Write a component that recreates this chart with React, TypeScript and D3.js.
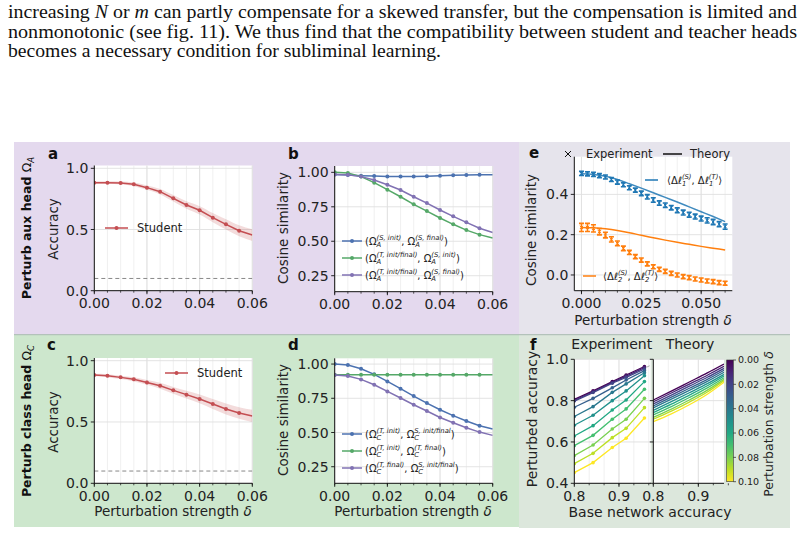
import React from 'react';
import * as d3 from 'd3';

const W = 804;
const H = 538;
const FONT = '"DejaVu Sans", sans-serif';

// perturbation strengths for panels a-d
const deltas = [0, 0.005, 0.01, 0.015, 0.02, 0.025, 0.03, 0.035, 0.04, 0.045, 0.05, 0.055, 0.06];

// a: student accuracy when the aux head is perturbed
const studentAuxAcc = [0.883, 0.883, 0.88, 0.869, 0.842, 0.809, 0.755, 0.7, 0.657, 0.597, 0.542, 0.49, 0.455];
const studentAuxSpread = [0.012, 0.012, 0.013, 0.015, 0.018, 0.022, 0.026, 0.03, 0.034, 0.038, 0.042, 0.045, 0.048];
// c: student accuracy when the class head is perturbed
const studentClassAcc = [0.883, 0.878, 0.864, 0.848, 0.823, 0.796, 0.758, 0.723, 0.688, 0.647, 0.606, 0.573, 0.549];
const studentClassSpread = [0.01, 0.012, 0.014, 0.017, 0.02, 0.024, 0.028, 0.032, 0.036, 0.04, 0.044, 0.047, 0.05];
const chanceLevel = 0.1;

// b: cosine similarities of aux heads
const auxSInitSFinal = [0.985, 0.98, 0.976, 0.973, 0.97, 0.969, 0.97, 0.972, 0.975, 0.978, 0.98, 0.982, 0.983];
const auxTSInit = [1.0, 0.995, 0.969, 0.925, 0.874, 0.823, 0.768, 0.719, 0.669, 0.623, 0.581, 0.548, 0.523];
const auxTSFinal = [0.985, 0.983, 0.969, 0.944, 0.91, 0.872, 0.823, 0.777, 0.727, 0.681, 0.637, 0.594, 0.564];

// d: cosine similarities of class heads
const classTInitS = [1.0, 0.993, 0.966, 0.925, 0.873, 0.82, 0.766, 0.715, 0.666, 0.623, 0.584, 0.55, 0.525];
const classTInitTFinal = [0.922, 0.922, 0.922, 0.922, 0.922, 0.922, 0.922, 0.922, 0.922, 0.922, 0.922, 0.922, 0.922];
const classTFinalS = [0.92, 0.912, 0.888, 0.849, 0.8, 0.752, 0.703, 0.657, 0.61, 0.571, 0.535, 0.503, 0.479];

// e: logit-update alignment, experiment (with error bars) and theory
const expDeltas = [0, 0.0025, 0.005, 0.0075, 0.01, 0.0125, 0.015, 0.0175, 0.02, 0.0225, 0.025, 0.0275, 0.03,
  0.0325, 0.035, 0.0375, 0.04, 0.0425, 0.045, 0.0475, 0.05, 0.0525, 0.055, 0.0575, 0.06];
const dl1Exp = [0.504, 0.502, 0.499, 0.493, 0.486, 0.474, 0.461, 0.448, 0.433, 0.421, 0.405, 0.388, 0.372,
  0.357, 0.346, 0.334, 0.321, 0.31, 0.299, 0.29, 0.28, 0.271, 0.263, 0.252, 0.24];
const dl1Err = [0.01, 0.01, 0.01, 0.01, 0.01, 0.01, 0.01, 0.01, 0.01, 0.01, 0.011, 0.011, 0.011,
  0.011, 0.011, 0.011, 0.012, 0.012, 0.012, 0.012, 0.012, 0.013, 0.013, 0.013, 0.013];
const dl2Exp = [0.236, 0.236, 0.231, 0.215, 0.198, 0.177, 0.157, 0.132, 0.112, 0.091, 0.074, 0.055, 0.041,
  0.028, 0.018, 0.008, 0.0, -0.008, -0.013, -0.02, -0.025, -0.03, -0.033, -0.038, -0.041];
const dl2Err = [0.02, 0.02, 0.018, 0.016, 0.014, 0.013, 0.012, 0.011, 0.01, 0.01, 0.01, 0.01, 0.01,
  0.01, 0.01, 0.01, 0.01, 0.01, 0.01, 0.01, 0.01, 0.01, 0.01, 0.01, 0.01];
const dl1Theory = [0.502, 0.499, 0.49, 0.474, 0.453, 0.431, 0.408, 0.385, 0.362, 0.338, 0.314, 0.29, 0.265];
const dl2Theory = [0.236, 0.234, 0.229, 0.221, 0.21, 0.197, 0.185, 0.173, 0.162, 0.152, 0.142, 0.133, 0.124];

// f: perturbed vs base accuracy for strengths 0..0.10
const fDeltas = [0, 0.01, 0.02, 0.03, 0.04, 0.05, 0.06, 0.07, 0.08, 0.09, 0.1];
const baseAcc = [0.8, 0.842, 0.885, 0.916, 0.957];
const expPerturbed = [
  [0.806, 0.847, 0.892, 0.924, 0.965],
  [0.802, 0.843, 0.888, 0.919, 0.96],
  [0.798, 0.839, 0.884, 0.913, 0.953],
  [0.768, 0.811, 0.862, 0.9, 0.945],
  [0.723, 0.771, 0.84, 0.881, 0.935],
  [0.681, 0.729, 0.8, 0.847, 0.921],
  [0.629, 0.679, 0.755, 0.803, 0.892],
  [0.582, 0.632, 0.71, 0.76, 0.855],
  [0.534, 0.585, 0.663, 0.71, 0.811],
  [0.495, 0.545, 0.621, 0.666, 0.766],
  [0.452, 0.5, 0.573, 0.618, 0.716],
];
const theoryBase = [0.8, 0.84, 0.88, 0.92, 0.957];
const theoryPerturbed = [
  [0.803, 0.846, 0.89, 0.934, 0.977],
  [0.794, 0.837, 0.88, 0.923, 0.966],
  [0.784, 0.827, 0.87, 0.913, 0.956],
  [0.774, 0.817, 0.86, 0.903, 0.947],
  [0.765, 0.807, 0.85, 0.893, 0.937],
  [0.753, 0.795, 0.838, 0.882, 0.927],
  [0.742, 0.783, 0.827, 0.872, 0.919],
  [0.731, 0.771, 0.815, 0.862, 0.911],
  [0.719, 0.759, 0.803, 0.851, 0.903],
  [0.71, 0.749, 0.793, 0.842, 0.897],
  [0.698, 0.736, 0.78, 0.831, 0.889],
];
const cbarTicks = [0, 0.02, 0.04, 0.06, 0.08, 0.1];

const C = {
  red: '#c44e52',
  blue: '#4c72b0',
  green: '#55a868',
  purple: '#8172b3',
  tblue: '#1f77b4',
  torange: '#ff7f0e',
};

// text measuring for sub/superscript layout
const ctx = typeof document !== 'undefined' ? document.createElement('canvas').getContext('2d') : null;
function measure(s: string, size: number, style = 'normal') {
  if (!ctx) return s.length * size * 0.6;
  ctx.font = `${style} ${size}px "DejaVu Sans"`;
  return ctx.measureText(s).width;
}

type Part = { t: string; sub?: string; sup?: string; it?: boolean; b?: boolean };

function ScriptText({ x, y, parts, size, anchor = 'start', rotate = false, fill = '#222' }:
  { x: number; y: number; parts: Part[]; size: number; anchor?: string; rotate?: boolean; fill?: string }) {
  const ss = size * 0.68;
  const up = size * 0.42;
  const down = size * 0.26;
  const spans: React.ReactNode[] = [];
  let cur = 0;
  let pend = 0;
  parts.forEach((p, i) => {
    spans.push(
      <tspan key={i + 'b'} dy={-cur} dx={pend || undefined} fontStyle={p.it ? 'italic' : undefined}
        fontWeight={p.b ? 'bold' : undefined}>{p.t}</tspan>
    );
    cur = 0;
    pend = 0;
    let supW = 0;
    if (p.sup) {
      supW = measure(p.sup, ss, 'italic');
      spans.push(<tspan key={i + 'p'} dy={-up - cur} fontSize={ss} fontStyle="italic">{p.sup}</tspan>);
      cur = -up;
    }
    if (p.sub) {
      const subW = measure(p.sub, ss, 'italic');
      spans.push(
        <tspan key={i + 's'} dx={p.sup ? -supW : undefined} dy={down - cur} fontSize={ss} fontStyle="italic">{p.sub}</tspan>
      );
      cur = down;
      pend = p.sup ? Math.max(supW, subW) - subW : 0;
    }
  });
  return (
    <text x={rotate ? 0 : x} y={rotate ? 0 : y} transform={rotate ? `translate(${x},${y}) rotate(-90)` : undefined}
      fontSize={size} textAnchor={anchor} fill={fill} fontFamily={FONT}>
      {spans}
    </text>
  );
}

type Sc = d3.ScaleLinear<number, number>;

function Frame({ id, x, y, xMajor, xMinor, yMajor, fx, fy, xLab = true, yLab = true, fs = 14, children }:
  { id: string; x: Sc; y: Sc; xMajor: number[]; xMinor: number[]; yMajor: number[]; fx: (v: number) => string;
    fy: (v: number) => string; xLab?: boolean; yLab?: boolean; fs?: number; children?: React.ReactNode }) {
  const [l, r] = x.range();
  const [b, t] = y.range();
  return (
    <g>
      <defs>
        <clipPath id={id}><rect x={l} y={t} width={r - l} height={b - t} /></clipPath>
      </defs>
      <rect x={l} y={t} width={r - l} height={b - t} fill="#fff" />
      {xMinor.map((v, i) => (
        <line key={'gm' + i} x1={x(v)} x2={x(v)} y1={t} y2={b} stroke="#ececec" strokeWidth={0.8} />
      ))}
      {xMajor.map((v, i) => (
        <line key={'gx' + i} x1={x(v)} x2={x(v)} y1={t} y2={b} stroke="#e0e0e0" strokeWidth={0.9} />
      ))}
      {yMajor.map((v, i) => (
        <line key={'gy' + i} x1={l} x2={r} y1={y(v)} y2={y(v)} stroke="#e0e0e0" strokeWidth={0.9} />
      ))}
      <g clipPath={`url(#${id})`}>{children}</g>
      <line x1={l} x2={l} y1={t} y2={b} stroke="#111" strokeWidth={1} />
      <line x1={l} x2={r} y1={b} y2={b} stroke="#111" strokeWidth={1} />
      {xMinor.map((v, i) => (
        <line key={'tm' + i} x1={x(v)} x2={x(v)} y1={b} y2={b + 2} stroke="#111" strokeWidth={0.7} />
      ))}
      {xMajor.map((v, i) => (
        <g key={'tx' + i}>
          <line x1={x(v)} x2={x(v)} y1={b} y2={b + 3.5} stroke="#111" strokeWidth={0.9} />
          {xLab && (
            <text x={x(v)} y={b + 17.5} fontSize={fs} textAnchor="middle" fill="#222" fontFamily={FONT}>{fx(v)}</text>
          )}
        </g>
      ))}
      {yMajor.map((v, i) => (
        <g key={'ty' + i}>
          <line x1={l - 3.5} x2={l} y1={y(v)} y2={y(v)} stroke="#111" strokeWidth={0.9} />
          {yLab && (
            <text x={l - 6} y={y(v) + fs * 0.36} fontSize={fs} textAnchor="end" fill="#222" fontFamily={FONT}>{fy(v)}</text>
          )}
        </g>
      ))}
    </g>
  );
}

const f1 = d3.format('.1f');
const f2 = d3.format('.2f');
const f3 = d3.format('.3f');

function pts(xs: number[], ys: number[]) {
  return xs.map((v, i) => [v, ys[i]] as [number, number]);
}

function Series({ x, y, xs, ys, color, r = 2, marks = xs.length - 1, curve = false }:
  { x: Sc; y: Sc; xs: number[]; ys: number[]; color: string; r?: number; marks?: number; curve?: boolean }) {
  const line = d3.line<[number, number]>().x(d => x(d[0])).y(d => y(d[1]));
  if (curve) line.curve(d3.curveMonotoneX);
  const p = pts(xs, ys);
  return (
    <g>
      <path d={line(p) || ''} fill="none" stroke={color} strokeWidth={1.5} />
      {p.slice(0, marks).map((d, i) => (
        <circle key={i} cx={x(d[0])} cy={y(d[1])} r={r} fill={color} />
      ))}
    </g>
  );
}

function Band({ x, y, xs, ys, spread, color }:
  { x: Sc; y: Sc; xs: number[]; ys: number[]; spread: number[]; color: string }) {
  const area = d3.area<number>().x((_, i) => x(xs[i])).y0((v, i) => y(v - spread[i])).y1((v, i) => y(v + spread[i]))
    .curve(d3.curveMonotoneX);
  return <path d={area(ys) || ''} fill={color} opacity={0.2} />;
}

function LegendLine({ x1, x2, y, color, marker = true }: { x1: number; x2: number; y: number; color: string; marker?: boolean }) {
  return (
    <g>
      <line x1={x1} x2={x2} y1={y} y2={y} stroke={color} strokeWidth={1.5} />
      {marker && <circle cx={(x1 + x2) / 2} cy={y} r={2} fill={color} />}
    </g>
  );
}

function ErrSeries({ x, y, xs, ys, err, color }: { x: Sc; y: Sc; xs: number[]; ys: number[]; err: number[]; color: string }) {
  return (
    <g stroke={color}>
      {xs.map((v, i) => {
        const cx = x(v);
        const y0 = y(ys[i] - err[i]);
        const y1 = y(ys[i] + err[i]);
        const cy = y(ys[i]);
        return (
          <g key={i}>
            <line x1={cx} x2={cx} y1={y0} y2={y1} strokeWidth={1.6} />
            <line x1={cx - 2.5} x2={cx + 2.5} y1={y0} y2={y0} strokeWidth={1.6} />
            <line x1={cx - 2.5} x2={cx + 2.5} y1={y1} y2={y1} strokeWidth={1.6} />
            <path d={`M${cx - 1.6},${cy - 1.6}L${cx + 1.6},${cy + 1.6}M${cx - 1.6},${cy + 1.6}L${cx + 1.6},${cy - 1.6}`} strokeWidth={1} />
          </g>
        );
      })}
    </g>
  );
}

function Letter({ x, y, s }: { x: number; y: number; s: string }) {
  return <text x={x} y={y} fontSize={15} fontWeight="bold" fill="#111" fontFamily={FONT}>{s}</text>;
}

function YLabel({ x, y, s, size = 13.5 }: { x: number; y: number; s: string; size?: number }) {
  return (
    <text transform={`translate(${x},${y}) rotate(-90)`} fontSize={size} textAnchor="middle" fill="#222" fontFamily={FONT}>{s}</text>
  );
}

function DeltaLabel({ x, y, size = 13.5, rotate = false }: { x: number; y: number; size?: number; rotate?: boolean }) {
  return (
    <ScriptText x={x} y={y} size={size} anchor="middle" rotate={rotate}
      parts={[{ t: 'Perturbation strength ' }, { t: 'δ', it: true }]} />
  );
}

export default function App() {
  // panel scales
  const xa = d3.scaleLinear().domain([0, 0.06]).range([94.3, 252.3]);
  const ya = d3.scaleLinear().domain([0, 1.023]).range([290.7, 165.5]);
  const yc = d3.scaleLinear().domain([0, 1.022]).range([483.3, 358]);
  const xb = d3.scaleLinear().domain([0, 0.06]).range([334.7, 492.7]);
  const yb = d3.scaleLinear().domain([0.134, 1.046]).range([291.7, 166]);
  const yd = d3.scaleLinear().domain([0.129, 1.042]).range([483.3, 358.3]);
  const xe = d3.scaleLinear().domain([-0.003, 0.063]).range([574.3, 732.3]);
  const ye = d3.scaleLinear().domain([-0.078, 0.587]).range([290.7, 156.7]);
  const xfl = d3.scaleLinear().domain([0.8, 0.971]).range([574.3, 650.7]);
  const xfr = d3.scaleLinear().domain([0.8, 0.957]).range([653.3, 724]);
  const yf = d3.scaleLinear().domain([0.4, 1.0]).range([483.3, 359.3]);
  const ycb = d3.scaleLinear().domain([0, 0.1]).range([360, 481.7]);
  const viridis = (v: number) => d3.interpolateViridis(v / 0.1);

  const accTicks = [0, 0.5, 1.0];
  const cosTicks = [0.25, 0.5, 0.75, 1.0];
  const dTicks = [0, 0.02, 0.04, 0.06];
  const fMinor = d3.range(0.8, 0.975, 0.1 / 3);

  const eTheoryLine = d3.line<[number, number]>().x(d => xe(d[0])).y(d => ye(d[1])).curve(d3.curveMonotoneX);
  const fLine = (x: Sc, curve: boolean) => {
    const g = d3.line<[number, number]>().x(d => x(d[0])).y(d => yf(d[1]));
    return curve ? g.curve(d3.curveMonotoneX) : g;
  };

  return (
    <svg width={W} height={H} viewBox={`0 0 ${W} ${H}`}
      style={{ position: 'absolute', left: 0, top: 0, background: '#fff', display: 'block' }}>
      {/* running text above the figure */}
      <g fontFamily='"Liberation Serif", serif' fontSize={18} fill="#111">
        <text x={8} y={18} textLength={789} lengthAdjust="spacingAndGlyphs">
          increasing <tspan fontStyle="italic">N</tspan> or <tspan fontStyle="italic">m</tspan> can partly compensate for a skewed transfer, but the compensation is limited and
        </text>
        <text x={8} y={37.5} textLength={789} lengthAdjust="spacingAndGlyphs">
          nonmonotonic (see fig. 11). We thus find that the compatibility between student and teacher heads
        </text>
        <text x={8} y={57} textLength={433} lengthAdjust="spacingAndGlyphs">
          becomes a necessary condition for subliminal learning.
        </text>
      </g>

      {/* row backgrounds */}
      <rect x={14} y={142} width={505} height={192.5} fill="#e4d9ee" />
      <rect x={519} y={142} width={271} height={192.5} fill="#e6e4ec" />
      <rect x={14} y={335} width={505} height={192} fill="#cde7cd" />
      <rect x={519} y={335} width={271} height={193} fill="#dce7dc" />
      <line x1={14} x2={790} y1={334.6} y2={334.6} stroke="#b3c2ba" strokeWidth={1.2} />

      {/* row labels */}
      <ScriptText x={31} y={228} size={12.5} anchor="middle" rotate fill="#111"
        parts={[{ t: 'Perturb aux head ', b: true }, { t: 'Ω', sub: 'A' }]} />
      <ScriptText x={31} y={421} size={12.5} anchor="middle" rotate fill="#111"
        parts={[{ t: 'Perturb class head ', b: true }, { t: 'Ω', sub: 'C' }]} />

      {/* a */}
      <Letter x={48} y={159} s="a" />
      <Frame id="ca" x={xa} y={ya} xMajor={dTicks} xMinor={deltas} yMajor={accTicks} fx={f2} fy={f1}>
        <line x1={xa(0)} x2={xa(0.06)} y1={ya(chanceLevel)} y2={ya(chanceLevel)} stroke="#888" strokeDasharray="4,3" strokeWidth={1} />
        <Band x={xa} y={ya} xs={deltas} ys={studentAuxAcc} spread={studentAuxSpread} color={C.red} />
        <Series x={xa} y={ya} xs={deltas} ys={studentAuxAcc} color={C.red} />
      </Frame>
      <YLabel x={57.5} y={229} s="Accuracy" />
      <LegendLine x1={105} x2={128} y={228} color={C.red} />
      <text x={137} y={232} fontSize={11.5} fill="#222" fontFamily={FONT}>Student</text>

      {/* b */}
      <Letter x={288} y={159} s="b" />
      <Frame id="cb" x={xb} y={yb} xMajor={dTicks} xMinor={deltas} yMajor={cosTicks} fx={f2} fy={f2}>
        <Series x={xb} y={yb} xs={deltas} ys={auxSInitSFinal} color={C.blue} />
        <Series x={xb} y={yb} xs={deltas} ys={auxTSInit} color={C.green} />
        <Series x={xb} y={yb} xs={deltas} ys={auxTSFinal} color={C.purple} />
      </Frame>
      <YLabel x={288} y={228} s="Cosine similarity" />
      {[
        { c: C.blue, y: 241, p: [{ t: '(Ω', sub: 'A', sup: '(S, init)' }, { t: ', Ω', sub: 'A', sup: '(S, final)' }, { t: ')' }] },
        { c: C.green, y: 258, p: [{ t: '(Ω', sub: 'A', sup: '(T, init/final)' }, { t: ', Ω', sub: 'A', sup: '(S, init)' }, { t: ')' }] },
        { c: C.purple, y: 275, p: [{ t: '(Ω', sub: 'A', sup: '(T, init/final)' }, { t: ', Ω', sub: 'A', sup: '(S, final)' }, { t: ')' }] },
      ].map((e, i) => (
        <g key={i}>
          <LegendLine x1={342} x2={362} y={e.y} color={e.c} />
          <ScriptText x={365} y={e.y + 3.5} size={10} parts={e.p} />
        </g>
      ))}

      {/* e */}
      <Letter x={529} y={158} s="e" />
      <Frame id="ce" x={xe} y={ye} xMajor={[0, 0.025, 0.05]} xMinor={deltas} yMajor={[0, 0.2, 0.4]} fx={f3} fy={f1}>
        <path d={eTheoryLine(pts(deltas, dl1Theory)) || ''} fill="none" stroke={C.tblue} strokeWidth={1.5} opacity={0.85} />
        <path d={eTheoryLine(pts(deltas, dl2Theory)) || ''} fill="none" stroke={C.torange} strokeWidth={1.5} />
        <ErrSeries x={xe} y={ye} xs={expDeltas} ys={dl1Exp} err={dl1Err} color={C.tblue} />
        <ErrSeries x={xe} y={ye} xs={expDeltas} ys={dl2Exp} err={dl2Err} color={C.torange} />
      </Frame>
      <YLabel x={536} y={230} s="Cosine similarity" />
      <DeltaLabel x={653} y={325} />
      <g stroke="#111" strokeWidth={1}>
        <path d="M565,151L571,157M565,157L571,151" />
        <line x1={663} x2={682} y1={154} y2={154} strokeWidth={1.5} />
      </g>
      <text x={586} y={158} fontSize={11.5} fill="#222" fontFamily={FONT}>Experiment</text>
      <text x={690} y={158} fontSize={11.5} fill="#222" fontFamily={FONT}>Theory</text>
      <LegendLine x1={645} x2={658} y={180} color={C.tblue} marker={false} />
      <ScriptText x={667} y={183.5} size={10}
        parts={[{ t: '⟨Δ' }, { t: 'ℓ', it: true, sub: '1', sup: '(S)' }, { t: ', Δ' }, { t: 'ℓ', it: true, sub: '1', sup: '(T)' }, { t: '⟩' }]} />
      <LegendLine x1={583} x2={596} y={276} color={C.torange} marker={false} />
      <ScriptText x={603} y={279.5} size={10}
        parts={[{ t: '⟨Δ' }, { t: 'ℓ', it: true, sub: '2', sup: '(S)' }, { t: ', Δ' }, { t: 'ℓ', it: true, sub: '2', sup: '(T)' }, { t: '⟩' }]} />

      {/* c */}
      <Letter x={47} y={350} s="c" />
      <Frame id="cc" x={xa} y={yc} xMajor={dTicks} xMinor={deltas} yMajor={accTicks} fx={f2} fy={f1}>
        <line x1={xa(0)} x2={xa(0.06)} y1={yc(chanceLevel)} y2={yc(chanceLevel)} stroke="#888" strokeDasharray="4,3" strokeWidth={1} />
        <Band x={xa} y={yc} xs={deltas} ys={studentClassAcc} spread={studentClassSpread} color={C.red} />
        <Series x={xa} y={yc} xs={deltas} ys={studentClassAcc} color={C.red} />
      </Frame>
      <YLabel x={57.5} y={422} s="Accuracy" />
      <DeltaLabel x={173} y={515.5} />
      <LegendLine x1={165} x2={188} y={373} color={C.red} />
      <text x={197} y={377} fontSize={11.5} fill="#222" fontFamily={FONT}>Student</text>

      {/* d */}
      <Letter x={288} y={350} s="d" />
      <Frame id="cd" x={xb} y={yd} xMajor={dTicks} xMinor={deltas} yMajor={cosTicks} fx={f2} fy={f2}>
        <Series x={xb} y={yd} xs={deltas} ys={classTInitS} color={C.blue} />
        <Series x={xb} y={yd} xs={deltas} ys={classTInitTFinal} color={C.green} />
        <Series x={xb} y={yd} xs={deltas} ys={classTFinalS} color={C.purple} />
      </Frame>
      <YLabel x={288} y={420} s="Cosine similarity" />
      <DeltaLabel x={413} y={515.5} />
      {[
        { c: C.blue, y: 434, p: [{ t: '(Ω', sub: 'C', sup: '(T, init)' }, { t: ', Ω', sub: 'C', sup: 'S, init/final' }, { t: ')' }] },
        { c: C.green, y: 451, p: [{ t: '(Ω', sub: 'C', sup: '(T, init)' }, { t: ', Ω', sub: 'C', sup: '(T, final)' }, { t: ')' }] },
        { c: C.purple, y: 468, p: [{ t: '(Ω', sub: 'C', sup: '(T, final)' }, { t: ', Ω', sub: 'C', sup: 'S, init/final' }, { t: ')' }] },
      ].map((e, i) => (
        <g key={i}>
          <LegendLine x1={342} x2={362} y={e.y} color={e.c} />
          <ScriptText x={365} y={e.y + 3.5} size={10} parts={e.p} />
        </g>
      ))}

      {/* f */}
      <Letter x={530} y={350} s="f" />
      <text x={611.7} y={349} fontSize={14} textAnchor="middle" fill="#222" fontFamily={FONT}>Experiment</text>
      <text x={690} y={349} fontSize={14} textAnchor="middle" fill="#222" fontFamily={FONT}>Theory</text>
      <Frame id="cfl" x={xfl} y={yf} xMajor={[0.8, 0.9]} xMinor={fMinor} yMajor={[0.4, 0.6, 0.8, 1.0]} fx={f1} fy={f1}>
        <line x1={xfl(0.8)} y1={yf(0.8)} x2={xfl(0.971)} y2={yf(0.971)} stroke="#999" strokeWidth={0.8} strokeDasharray="3,2" />
        {expPerturbed.map((row, k) => (
          <g key={k}>
            <path d={fLine(xfl, false)(pts(baseAcc, row)) || ''} fill="none" stroke={viridis(fDeltas[k])} strokeWidth={1.3} />
            {row.map((v, i) => (
              <circle key={i} cx={xfl(baseAcc[i])} cy={yf(v)} r={1.8} fill={viridis(fDeltas[k])} />
            ))}
          </g>
        ))}
      </Frame>
      <Frame id="cfr" x={xfr} y={yf} xMajor={[0.8, 0.9]} xMinor={fMinor} yMajor={[0.4, 0.6, 0.8, 1.0]} fx={f1} fy={f1} yLab={false}>
        {theoryPerturbed.map((row, k) => (
          <path key={k} d={fLine(xfr, true)(pts(theoryBase, row)) || ''} fill="none" stroke={viridis(fDeltas[k])} strokeWidth={1.3} />
        ))}
      </Frame>
      <YLabel x={537} y={419} s="Perturbed accuracy" size={14} />
      <text x={650} y={517} fontSize={14} textAnchor="middle" fill="#222" fontFamily={FONT}>Base network accuracy</text>

      {/* colorbar */}
      <defs>
        <linearGradient id="cbar" x1="0" y1="0" x2="0" y2="1">
          {d3.range(0, 1.0001, 0.1).map(t => (
            <stop key={t} offset={t} stopColor={d3.interpolateViridis(t)} />
          ))}
        </linearGradient>
      </defs>
      <rect x={726.7} y={ycb(0)} width={6.6} height={ycb(0.1) - ycb(0)} fill="url(#cbar)" stroke="#333" strokeWidth={0.6} />
      {cbarTicks.map(v => (
        <g key={v}>
          <line x1={733.3} x2={736} y1={ycb(v)} y2={ycb(v)} stroke="#222" strokeWidth={0.7} />
          <text x={738} y={ycb(v) + 3.4} fontSize={9.5} fill="#222" fontFamily={FONT}>{f2(v)}</text>
        </g>
      ))}
      <DeltaLabel x={773} y={424} size={12.5} rotate />
    </svg>
  );
}
